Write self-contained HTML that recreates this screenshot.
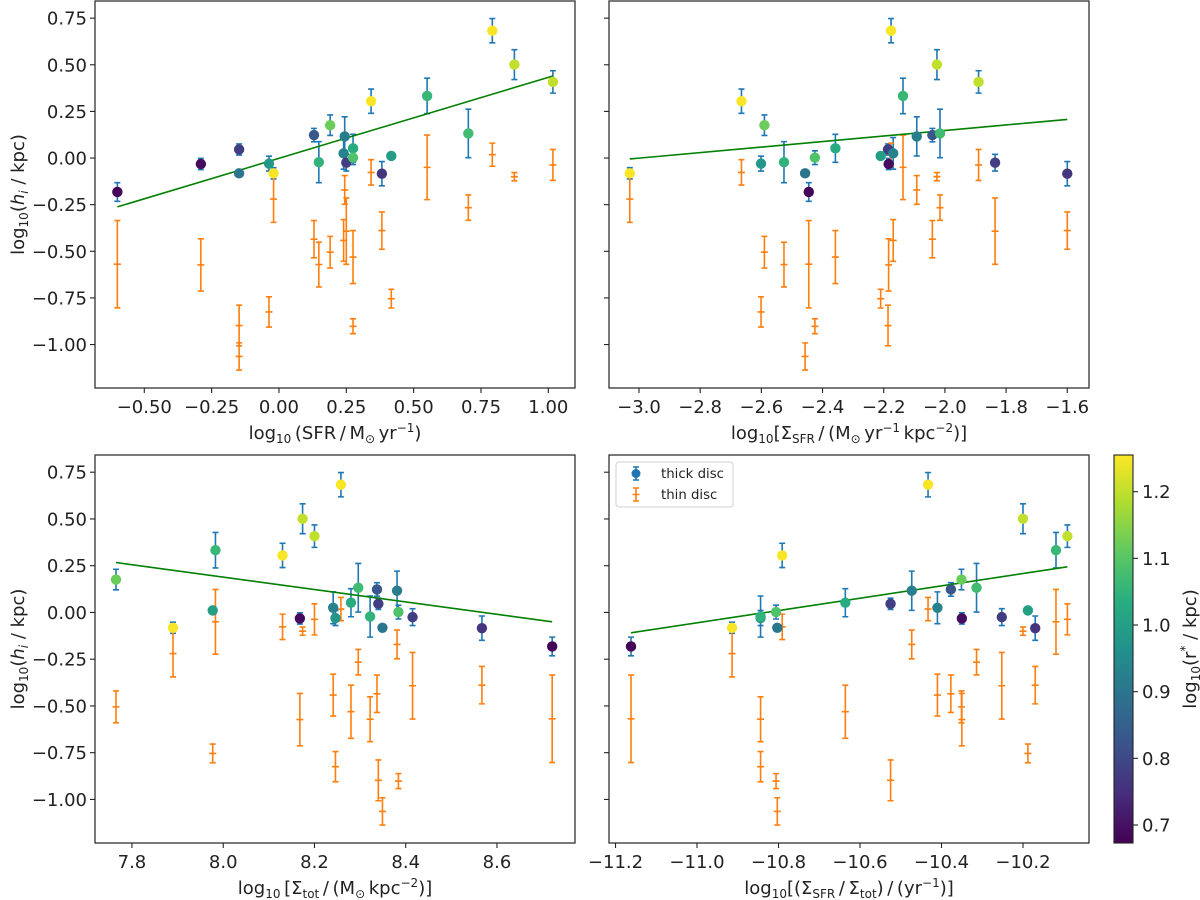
<!DOCTYPE html>
<html><head><meta charset="utf-8">
<style>
html,body{margin:0;padding:0;background:#fff;}
svg{display:block;font-family:"DejaVu Sans","Liberation Sans",sans-serif;}
</style></head>
<body>
<svg id="fig" width="1200" height="900" viewBox="0 0 1200 900" xmlns="http://www.w3.org/2000/svg">
<defs>
<linearGradient id="vir" x1="0" y1="1" x2="0" y2="0">
<stop offset="0" stop-color="#440154"/><stop offset="0.125" stop-color="#472d7b"/>
<stop offset="0.25" stop-color="#3b528b"/><stop offset="0.375" stop-color="#2c728e"/>
<stop offset="0.5" stop-color="#21918c"/><stop offset="0.625" stop-color="#28ae80"/>
<stop offset="0.75" stop-color="#5ec962"/><stop offset="0.875" stop-color="#addc30"/>
<stop offset="1" stop-color="#fde725"/>
</linearGradient>
</defs>
</svg>
<script>
// ---- shared galaxy data (22 galaxies) ----
const thickY   = [-0.182,-0.032,0.046,-0.082,-0.03,-0.082,0.123,-0.022,0.176,0.116,0.025,-0.025,0.052,0.002,0.305,-0.084,0.011,0.333,0.132,0.683,0.501,0.408];
const thickErr = [0.05,0.03,0.03,0,0.04,0.03,0.036,0.11,0.055,0.105,0.085,0.045,0.075,0.037,0.065,0.065,0,0.095,0.13,0.065,0.08,0.06];
const thinY    = [-0.569,-0.573,-0.898,-1.064,-0.825,-0.22,-0.435,-0.571,-0.505,-0.171,-0.442,-0.392,-0.531,-0.902,-0.077,-0.389,-0.754,-0.05,-0.266,0.018,-0.1,-0.037];
const thinErr  = [0.234,0.14,0.109,0.073,0.081,0.125,0.1,0.12,0.085,0.077,0.112,0.178,0.142,0.04,0.068,0.1,0.05,0.173,0.068,0.062,0.022,0.083];
const rStar    = [0.68,0.69,0.78,0.90,0.98,1.25,0.83,1.05,1.12,0.92,0.93,0.78,1.03,1.09,1.25,0.76,1.0,1.06,1.07,1.25,1.2,1.2];
// ---- per-panel x values ----
const xSFR   = [-0.60,-0.29,-0.148,-0.148,-0.037,-0.02,0.13,0.148,0.19,0.244,0.24,0.25,0.275,0.275,0.342,0.382,0.417,0.55,0.703,0.792,0.874,1.017];
const xSigSFR= [-2.445,-2.184,-2.186,-2.457,-2.601,-3.03,-2.041,-2.526,-2.59,-2.092,-2.169,-1.836,-2.358,-2.425,-2.665,-1.60,-2.21,-2.137,-2.016,-2.176,-2.026,-1.89];
const xSigTot= [8.721,8.168,8.34,8.349,8.246,7.89,8.337,8.322,7.765,8.381,8.241,8.415,8.28,8.384,8.13,8.567,7.977,7.983,8.296,8.258,8.174,8.2];
const xSSFR  = [-11.162,-10.35,-10.525,-10.803,-10.844,-10.914,-10.377,-10.844,-10.351,-10.473,-10.41,-10.252,-10.636,-10.806,-10.791,-10.17,-10.188,-10.119,-10.314,-10.433,-10.2,-10.091];
// ---- fit lines ----
const fitSFR_x=[-0.60,1.017], fitSFR_y=[-0.262,0.44];
const fitSigSFR_x=[-3.03,-1.60], fitSigSFR_y=[-0.005,0.207];
const fitSigTot_x=[7.765,8.721], fitSigTot_y=[0.267,-0.05];
const fitSSFR_x=[-11.162,-10.091], fitSSFR_y=[-0.109,0.244];
// ---- ticks ----
const yTicks=[0.75,0.5,0.25,0,-0.25,-0.5,-0.75,-1.0];
const yTickLabels=["0.75","0.50","0.25","0.00","\u22120.25","\u22120.50","\u22120.75","\u22121.00"];
const xTicksSFR=[-0.5,-0.25,0,0.25,0.5,0.75,1.0];
const xLabelsSFR=["\u22120.50","\u22120.25","0.00","0.25","0.50","0.75","1.00"];
const xTicksSigSFR=[-3.0,-2.8,-2.6,-2.4,-2.2,-2.0,-1.8,-1.6];
const xLabelsSigSFR=["\u22123.0","\u22122.8","\u22122.6","\u22122.4","\u22122.2","\u22122.0","\u22121.8","\u22121.6"];
const xTicksSigTot=[7.8,8.0,8.2,8.4,8.6];
const xLabelsSigTot=["7.8","8.0","8.2","8.4","8.6"];
const xTicksSSFR=[-11.2,-11.0,-10.8,-10.6,-10.4,-10.2];
const xLabelsSSFR=["\u221211.2","\u221211.0","\u221210.8","\u221210.6","\u221210.4","\u221210.2"];
const cbTicks=[0.7,0.8,0.9,1.0,1.1,1.2];
const cbLabels=["0.7","0.8","0.9","1.0","1.1","1.2"];

const NS="http://www.w3.org/2000/svg";
const svg=document.getElementById('fig');
function mk(tag,attrs,parent){const e=document.createElementNS(NS,tag);for(const k in attrs)e.setAttribute(k,attrs[k]);(parent||svg).appendChild(e);return e;}

const CMIN=0.673, CMAX=1.255;
const vstops=[[0,[68,1,84]],[0.125,[71,45,123]],[0.25,[59,82,139]],[0.375,[44,114,142]],[0.5,[33,145,140]],[0.625,[40,174,128]],[0.75,[94,201,98]],[0.875,[173,220,48]],[1,[253,231,37]]];
function viridis(v){let t=(v-CMIN)/(CMAX-CMIN);t=Math.max(0,Math.min(1,t));
 for(let i=0;i<vstops.length-1;i++){const a=vstops[i],b=vstops[i+1];if(t<=b[0]){const f=(t-a[0])/(b[0]-a[0]);
 const c=a[1].map((x,j)=>Math.round(x+(b[1][j]-x)*f));return `rgb(${c[0]},${c[1]},${c[2]})`;}}return 'rgb(253,231,37)';}

const YMIN=-1.233,YMAX=0.842;
function panel(name,L,R,T,B,xmin,xmax,xs,fitX,fitY,xt,xl,showYLabels,xlabelParts,showLegend){
 const g=mk('g',{});
 
 
 const sx=v=>L+(v-xmin)/(xmax-xmin)*(R-L);
 const sy=v=>B-(v-YMIN)/(YMAX-YMIN)*(B-T);
 // thick error bars
 for(let i=0;i<xs.length;i++){
  if(thickErr[i]<=0) continue;
  const x=sx(xs[i]),y1=sy(thickY[i]-thickErr[i]),y2=sy(thickY[i]+thickErr[i]);
  const e=mk('path',{d:`M${x},${y1}V${y2}M${x-3},${y1}H${x+3}M${x-3},${y2}H${x+3}`,stroke:'#1f77b4','stroke-width':1.6,fill:'none'},g);
  
  
 }
 // thin error bars
 for(let i=0;i<xs.length;i++){
  const x=sx(xs[i]),yc=sy(thinY[i]),y1=sy(thinY[i]-thinErr[i]),y2=sy(thinY[i]+thinErr[i]);
  const e=mk('path',{d:`M${x},${y1}V${y2}M${x-3},${y1}H${x+3}M${x-3},${y2}H${x+3}M${x-3.5},${yc}H${x+3.5}`,stroke:'#ff7f0e','stroke-width':1.6,fill:'none'},g);
  
  
 }
 // fit line
 const ln=mk('line',{x1:sx(fitX[0]),y1:sy(fitY[0]),x2:sx(fitX[1]),y2:sy(fitY[1]),stroke:'#008000','stroke-width':1.6},g);
 
 
 // scatter points
 for(let i=0;i<xs.length;i++){
  const c=mk('circle',{cx:sx(xs[i]),cy:sy(thickY[i]),r:5.2,fill:viridis(rStar[i])},g);
  
  
 }
 // frame
 const fr=mk('rect',{x:L,y:T,width:R-L,height:B-T,fill:'none',stroke:'#222','stroke-width':1.2},g);
 
 
 // y ticks
 for(let i=0;i<yTicks.length;i++){
  const y=sy(yTicks[i]);
  const t=mk('line',{x1:L-5,x2:L,y1:y,y2:y,stroke:'#222','stroke-width':1.1},g);
  
  
  if(showYLabels){
   const tx=mk('text',{x:L-8,y:y+6.5,'text-anchor':'end','font-size':18,fill:'#222'},g);
   tx.textContent=yTickLabels[i];
   
   
  }
 }
 // x ticks
 for(let i=0;i<xt.length;i++){
  const x=sx(xt[i]);
  const t=mk('line',{x1:x,x2:x,y1:B,y2:B+5,stroke:'#222','stroke-width':1.1},g);
  
  
  const tx=mk('text',{x:x,y:B+25,'text-anchor':'middle','font-size':18,fill:'#222'},g);
  tx.textContent=xl[i];
  
  
 }
 // x axis label
 const lab=mk('text',{x:(L+R)/2,y:B+51,'text-anchor':'middle','font-size':18,fill:'#222'},g);
 
 
 for(const p of xlabelParts){
  const ts=mk('tspan',{},lab);
  if(p[1]==='sub'){ts.setAttribute('font-size',12);ts.setAttribute('dy',4);}
  else if(p[1]==='sup'){ts.setAttribute('font-size',12);ts.setAttribute('dy',-7);}
  else if(p[1]==='back'){ts.setAttribute('dy',p[2]);}
  ts.textContent=p[0];
 }
 if(showYLabels){
  const cy=(T+B)/2;
  const yl=mk('text',{x:0,y:0,'text-anchor':'middle','font-size':18,fill:'#222',transform:`translate(24,${cy}) rotate(-90)`},g);
  
  
  const a=mk('tspan',{},yl);a.textContent='log';
  const b=mk('tspan',{'font-size':12,dy:4},yl);b.textContent='10';
  const c=mk('tspan',{dy:-4},yl);c.textContent='(';
  const d=mk('tspan',{'font-style':'italic'},yl);d.textContent='h';
  const e=mk('tspan',{'font-size':12,dy:4,'font-style':'italic'},yl);e.textContent='i';
  const f=mk('tspan',{dy:-4},yl);f.textContent=' / kpc)';
 }
 if(showLegend){
  const lg=mk('g',{},g);
  
  
  mk('rect',{x:616,y:462,width:117,height:45,rx:3,fill:'#fff','fill-opacity':0.8,stroke:'#d0d0d0','stroke-width':1},lg);
  const e1=mk('g',{},lg);
  
  
  mk('path',{d:'M636,467V480M633,467H639M633,480H639',stroke:'#1f77b4','stroke-width':1.6,fill:'none'},e1);
  mk('circle',{cx:636,cy:473.5,r:4.5,fill:'#1f77b4'},e1);
  const t1=mk('text',{x:661,y:478,'font-size':13.3,fill:'#222'},e1);t1.textContent='thick disc';
  const e2=mk('g',{},lg);
  
  
  mk('path',{d:'M636,488V501M633,488H639M633,501H639M632.5,494.5H639.5',stroke:'#ff7f0e','stroke-width':1.6,fill:'none'},e2);
  const t2=mk('text',{x:661,y:499,'font-size':13.3,fill:'#222'},e2);t2.textContent='thin disc';
 }
}

panel('panel-sfr',95,575,1,388,-0.683,1.099,xSFR,fitSFR_x,fitSFR_y,xTicksSFR,xLabelsSFR,true,
 [['log'],['10','sub'],['\u2009(SFR\u2009/\u2009M','back',-4],['\u2299','sub'],['\u2009yr','back',-4],['\u22121','sup'],[')','back',7]],false);
panel('panel-sigma-sfr',609,1089,1,388,-3.098,-1.529,xSigSFR,fitSigSFR_x,fitSigSFR_y,xTicksSigSFR,xLabelsSigSFR,false,
 [['log'],['10','sub'],['[\u03a3','back',-4],['SFR','sub'],['\u2009/\u2009(M','back',-4],['\u2299','sub'],['\u2009yr','back',-4],['\u22121','sup'],['\u2009kpc','back',7],['\u22122','sup'],[')]','back',7]],false);
panel('panel-sigma-tot',95,575,455,843,7.719,8.771,xSigTot,fitSigTot_x,fitSigTot_y,xTicksSigTot,xLabelsSigTot,true,
 [['log'],['10','sub'],['\u2009[\u03a3','back',-4],['tot','sub'],['\u2009/\u2009(M','back',-4],['\u2299','sub'],['\u2009kpc','back',-4],['\u22122','sup'],[')]','back',7]],false);
panel('panel-ssfr',609,1089,455,843,-11.216,-10.038,xSSFR,fitSSFR_x,fitSSFR_y,xTicksSSFR,xLabelsSSFR,false,
 [['log'],['10','sub'],['[(\u03a3','back',-4],['SFR','sub'],['\u2009/\u2009\u03a3','back',-4],['tot','sub'],[')\u2009/\u2009(yr','back',-4],['\u22121','sup'],[')]','back',7]],true);

// colorbar
const cb=mk('g',{});


const CBT=455,CBB=843,CBL=1114,CBR=1133;
mk('rect',{x:CBL,y:CBT,width:CBR-CBL,height:CBB-CBT,fill:'url(#vir)',stroke:'#222','stroke-width':1.1},cb);
const scb=v=>CBB-(v-CMIN)/(CMAX-CMIN)*(CBB-CBT);
for(let i=0;i<cbTicks.length;i++){
 const y=scb(cbTicks[i]);
 const t=mk('line',{x1:CBR,x2:CBR+5,y1:y,y2:y,stroke:'#222','stroke-width':1.1},cb);
 
 
 const tx=mk('text',{x:CBR+9,y:y+6.5,'font-size':18,fill:'#222'},cb);
 tx.textContent=cbLabels[i];
 
 
}
const cl=mk('text',{x:0,y:0,'text-anchor':'middle','font-size':18,fill:'#222',transform:`translate(1196,${(CBT+CBB)/2}) rotate(-90)`},cb);


{const a=mk('tspan',{},cl);a.textContent='log';
 const b=mk('tspan',{'font-size':12,dy:4},cl);b.textContent='10';
 const c=mk('tspan',{dy:-4},cl);c.textContent='(r';
 const d=mk('tspan',{'font-size':12,dy:-7},cl);d.textContent='*';
 const e=mk('tspan',{dy:7},cl);e.textContent=' / kpc)';}
</script>
</body></html>
